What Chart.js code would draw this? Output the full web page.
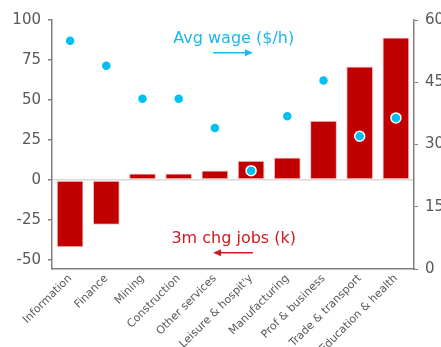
<!DOCTYPE html>
<html>
<head>
<meta charset="utf-8">
<script src="https://cdn.jsdelivr.net/npm/chart.js@4.4.1/dist/chart.umd.min.js"></script>
<style>
    body { margin: 0; background: #fff; }
    #wrap { width: 441px; height: 347px; position: relative; }
</style>
</head>
<body>
<div id="wrap"><canvas id="sectorChart"></canvas></div>
<script>
const SECTORS = [
    'Information',
    'Finance',
    'Mining',
    'Construction',
    'Other services',
    "Leisure & hospit'y",
    'Manufacturing',
    'Prof & business',
    'Trade & transport',
    'Education & health'
];

// 3m change in jobs (k), left axis
const JOBS_CHG = [-42, -28, 4, 4, 6, 12, 14, 37, 71, 89];

// average hourly wage ($/h), right axis
const AVG_WAGE = [55, 49, 41, 41, 34, 23.7, 36.8, 45.4, 32, 36.4];

const LEFT_TICKS = [-50, -25, 0, 25, 50, 75, 100];
const RIGHT_TICKS = [0, 15, 30, 45, 60];

const COLORS = {
    bar: '#C00000',
    dot: '#00BFF3',
    wageText: '#1AB7EE',
    jobsText: '#CC1A22',
    axis: '#808080',
    tick: '#595959',
    zero: '#D9D9D9'
};

const FONT = 'DejaVu Sans';

// little text + arrow notes inside the plot
const notesPlugin = {
    id: 'notes',
    afterDatasetsDraw(chart) {
        const ctx = chart.ctx;
        const x = chart.scales.x;
        const y = chart.scales.y;

        function note(text, color, ty, ay, from, to) {
            ctx.save();
            ctx.font = '16px "' + FONT + '"';
            ctx.fillStyle = color;
            ctx.textAlign = 'center';
            ctx.textBaseline = 'middle';
            ctx.fillText(text, x.getPixelForValue(4.52), y.getPixelForValue(ty));

            const x1 = x.getPixelForValue(from);
            const x2 = x.getPixelForValue(to);
            const py = y.getPixelForValue(ay);
            const dir = x2 > x1 ? 1 : -1;
            ctx.strokeStyle = color;
            ctx.lineWidth = 1.5;
            ctx.beginPath();
            ctx.moveTo(x1, py);
            ctx.lineTo(x2 - dir * 6, py);
            ctx.stroke();
            ctx.beginPath();
            ctx.moveTo(x2, py);
            ctx.lineTo(x2 - dir * 8, py - 3.5);
            ctx.lineTo(x2 - dir * 8, py + 3.5);
            ctx.closePath();
            ctx.fill();
            ctx.restore();
        }

        note('Avg wage ($/h)', COLORS.wageText, 88.5, 79.5, 3.95, 5.05);
        note('3m chg jobs (k)', COLORS.jobsText, -37, -45.5, 5.05, 3.95);
    }
};

var data = {
    labels: SECTORS,
    datasets: [
        {
            type: 'line',
            label: 'Avg wage ($/h)',
            data: AVG_WAGE,
            yAxisID: 'y2',
            showLine: false,
            pointRadius: 5,
            pointBackgroundColor: COLORS.dot,
            pointBorderColor: '#ffffff',
            pointBorderWidth: 1.5,
            order: 0
        },
        {
            type: 'bar',
            label: '3m chg jobs (k)',
            data: JOBS_CHG,
            yAxisID: 'y',
            backgroundColor: COLORS.bar,
            borderColor: '#F2C4C4',
            borderWidth: 1,
            borderSkipped: false,
            categoryPercentage: 1.0,
            barPercentage: 0.74,
            order: 1
        }
    ]
};

var config = {
    data: data,
    options: {
        responsive: true,
        maintainAspectRatio: false,
        animation: false,
        layout: { padding: { top: 20, left: 0, right: 0, bottom: 0 } },
        plugins: {
            legend: { display: false },
            tooltip: { enabled: false }
        },
        scales: {
            x: {
                grid: { display: false },
                border: { display: true, color: COLORS.axis, width: 1.5 },
                ticks: {
                    color: COLORS.tick,
                    font: { family: FONT, size: 11 },
                    maxRotation: 45,
                    minRotation: 45,
                    autoSkip: false,
                    padding: -5
                },
                afterFit(scale) { scale.height = 78; }
            },
            y: {
                position: 'left',
                min: -55.6,
                max: 100,
                afterBuildTicks(scale) {
                    scale.ticks = LEFT_TICKS.map(v => ({ value: v }));
                },
                grid: {
                    color: (c) => (c.tick && c.tick.value === 0) ? COLORS.zero : 'rgba(0,0,0,0)',
                    lineWidth: 1.5,
                    tickColor: COLORS.axis,
                    tickLength: 4
                },
                border: { display: true, color: COLORS.axis, width: 1.5 },
                ticks: {
                    color: COLORS.tick,
                    font: { family: FONT, size: 15 },
                    padding: 7
                },
                afterFit(scale) { scale.width = 52; }
            },
            y2: {
                position: 'right',
                min: 0,
                max: 60,
                afterBuildTicks(scale) {
                    scale.ticks = RIGHT_TICKS.map(v => ({ value: v }));
                },
                grid: {
                    drawOnChartArea: false,
                    tickColor: COLORS.axis,
                    tickLength: 4
                },
                border: { display: true, color: COLORS.axis, width: 1.5 },
                ticks: {
                    color: COLORS.tick,
                    font: { family: FONT, size: 15 },
                    padding: 7
                },
                afterFit(scale) { scale.width = 27; }
            }
        }
    },
    plugins: [notesPlugin]
};

var chartSectors = new Chart(document.getElementById('sectorChart'), config);
</script>
</body>
</html>
